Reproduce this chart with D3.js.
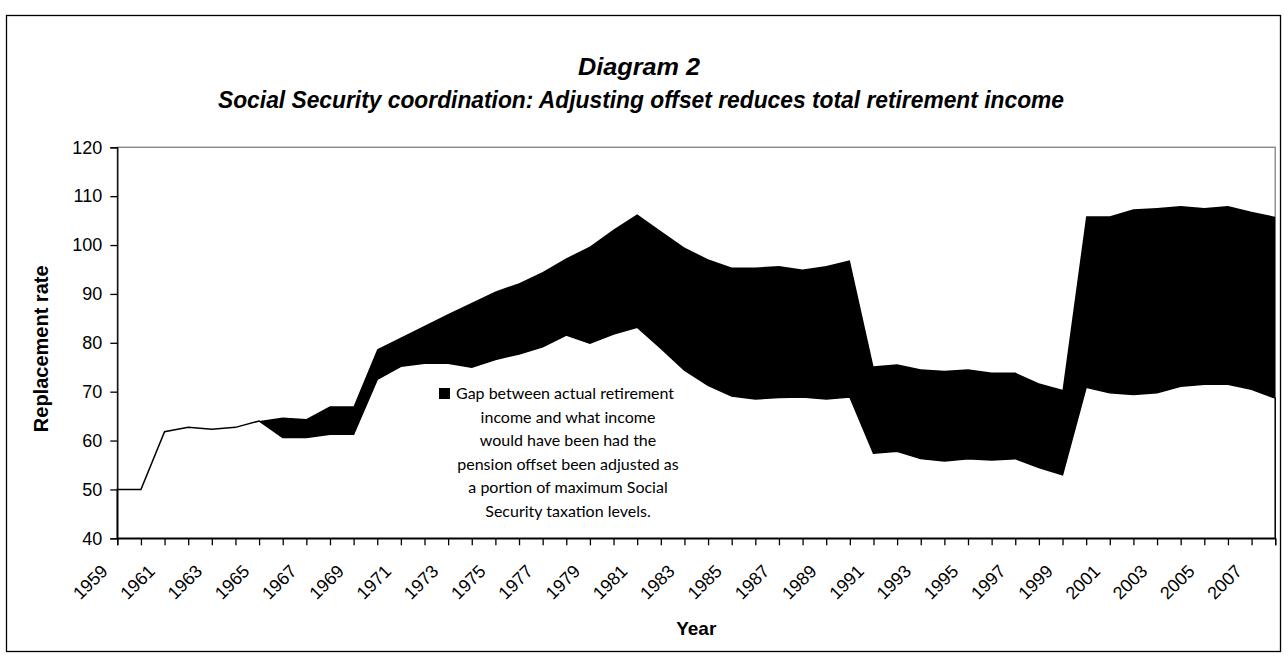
<!DOCTYPE html>
<html>
<head>
<meta charset="utf-8">
<script src="https://d3js.org/d3.v7.min.js"></script>
<style>
  body { margin: 0; background: #fff; }
  svg { display: block; }
  .axis text { font-family: "Liberation Sans", Arial, sans-serif; fill: #000; }
  .axis path, .axis line { stroke: #000; stroke-width: 1.3px; }
</style>
</head>
<body>
<svg id="chart" width="1288" height="663"></svg>
<script>
// years on the category axis
var years = d3.range(1959, 2009)

// actual replacement rate (lower edge of the black band)
var actualRate = [
  50.0, 50.0, 61.8, 62.7, 62.3, 62.7, 64.0, 60.6, 60.6, 61.3,
  61.3, 72.5, 75.2, 75.8, 75.8, 75.0, 76.6, 77.7, 79.2, 81.6,
  79.9, 81.8, 83.2, 78.9, 74.4, 71.3, 69.1, 68.5, 68.8, 68.9,
  68.5, 68.9, 57.4, 57.8, 56.3, 55.8, 56.3, 56.0, 56.3, 54.5,
  53.0, 70.9, 69.8, 69.4, 69.8, 71.1, 71.5, 71.5, 70.5, 68.7
]

// rate had the offset been adjusted (upper edge of the black band)
var adjustedRate = [
  50.0, 50.0, 61.8, 62.7, 62.3, 62.7, 64.0, 64.7, 64.4, 67.0,
  67.0, 78.7, 81.1, 83.5, 85.9, 88.2, 90.5, 92.2, 94.5, 97.3,
  99.7, 103.2, 106.3, 102.9, 99.5, 97.1, 95.4, 95.4, 95.7, 95.0,
  95.7, 96.9, 75.2, 75.6, 74.6, 74.3, 74.6, 73.9, 73.9, 71.7,
  70.4, 105.9, 105.9, 107.3, 107.6, 108.0, 107.6, 108.0, 106.8, 105.8
]

var yTicks = [40, 50, 60, 70, 80, 90, 100, 110, 120]

var legendLines = [
  "Gap between actual retirement",
  "income and what income",
  "would have been had the",
  "pension offset been adjusted as",
  "a portion of maximum Social",
  "Security taxation levels."
]

var data = years.map(function(yr, i) {
  return { year: yr, actual: actualRate[i], adjusted: adjustedRate[i] }
})

var plot = { left: 117.3, right: 1275.2, top: 147.3, bottom: 538.3 }

var svg = d3.select("#chart")

// outer frame
svg.append("rect")
  .attr("x", 6.5).attr("y", 15.5)
  .attr("width", 1274).attr("height", 636)
  .attr("fill", "none").attr("stroke", "#000").attr("stroke-width", 1.3)

var x = d3.scaleLinear().domain([1959, 2008]).range([plot.left, plot.right])
var y = d3.scaleLinear().domain([40, 120]).range([plot.bottom, plot.top])

// plot area border (grey)
svg.append("rect")
  .attr("x", plot.left).attr("y", plot.top)
  .attr("width", plot.right - plot.left).attr("height", plot.bottom - plot.top)
  .attr("fill", "#fff").attr("stroke", "#808080").attr("stroke-width", 1.3)

// actual series: white area with black outline
svg.append("path")
  .datum(data)
  .attr("fill", "#fff")
  .attr("stroke", "#000")
  .attr("stroke-width", 1.5)
  .attr("d", d3.area()
    .x(function(d) { return x(d.year) })
    .y0(y(40))
    .y1(function(d) { return y(d.actual) }))

// gap series: black band
svg.append("path")
  .datum(data)
  .attr("fill", "#000")
  .attr("d", d3.area()
    .x(function(d) { return x(d.year) })
    .y0(function(d) { return y(d.actual) })
    .y1(function(d) { return y(d.adjusted) }))

// y axis
var yAxis = svg.append("g")
  .attr("class", "axis")
  .attr("transform", "translate(" + plot.left + ",0)")
  .call(d3.axisLeft(y).tickValues(yTicks).tickSize(7).tickPadding(8))
yAxis.selectAll("text").style("font-size", "18px")

// x axis, a tick per year, labels on odd years
var xAxis = svg.append("g")
  .attr("class", "axis")
  .attr("transform", "translate(0," + plot.bottom + ")")
  .call(d3.axisBottom(x).tickValues(years).tickSize(7)
    .tickFormat(function(d) { return (d - 1959) % 2 === 0 ? d : "" }))
xAxis.selectAll("text")
  .style("font-size", "18px")
  .attr("text-anchor", "end")
  .attr("y", 0)
  .attr("dy", 0)
  .attr("transform", "translate(-9,34) rotate(-45)")

// axis titles
svg.append("text")
  .attr("transform", "translate(41," + ((plot.top + plot.bottom) / 2 + 6) + ") rotate(-90)")
  .attr("text-anchor", "middle")
  .attr("dy", "0.35em")
  .style("font-family", "Liberation Sans, Arial, sans-serif")
  .style("font-weight", "bold")
  .style("font-size", "20px")
  .text("Replacement rate")

svg.append("text")
  .attr("x", (plot.left + plot.right) / 2)
  .attr("y", 635)
  .attr("text-anchor", "middle")
  .style("font-family", "Liberation Sans, Arial, sans-serif")
  .style("font-weight", "bold")
  .style("font-size", "19px")
  .text("Year")

// titles
var title = svg.append("g")
  .style("font-family", "Liberation Sans, Arial, sans-serif")
  .style("font-weight", "bold")
  .style("font-style", "italic")
  .style("font-size", "24px")
  .attr("text-anchor", "middle")
title.append("text").attr("x", 639).attr("y", 75)
  .attr("textLength", 122).attr("lengthAdjust", "spacingAndGlyphs")
  .text("Diagram 2")
title.append("text").attr("x", 641).attr("y", 108)
  .attr("textLength", 846).attr("lengthAdjust", "spacingAndGlyphs")
  .text("Social Security coordination: Adjusting offset reduces total retirement income")

// legend
var legend = svg.append("g")
  .style("font-family", "Lato, Open Sans, sans-serif")
  .style("font-size", "16px")
legend.append("rect")
  .attr("x", 439).attr("y", 388)
  .attr("width", 11).attr("height", 11)
  .attr("fill", "#000")
legend.selectAll("text.line")
  .data(legendLines)
  .enter().append("text")
  .attr("class", "line")
  .attr("x", function(d, i) { return i === 0 ? 456 : 568 })
  .attr("y", function(d, i) { return 399 + i * 23.5 })
  .attr("text-anchor", function(d, i) { return i === 0 ? "start" : "middle" })
  .text(function(d) { return d })
</script>
</body>
</html>
